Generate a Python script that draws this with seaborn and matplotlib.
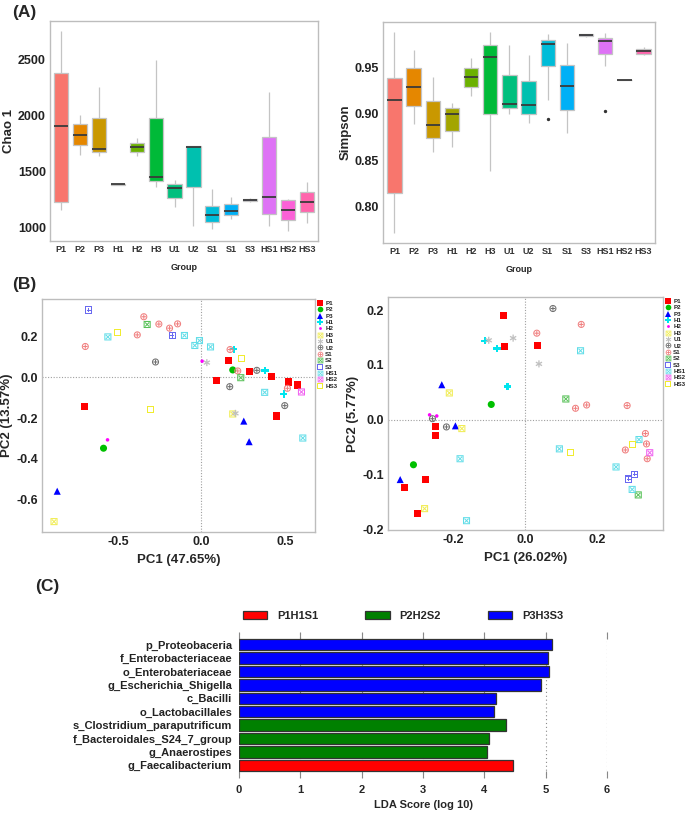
import numpy as np
import pandas as pd
import matplotlib
matplotlib.use("Agg")
import matplotlib.pyplot as plt
import seaborn as sns
from matplotlib.patches import Patch
from matplotlib.path import Path

box_ids = ["P1", "P2", "P3", "H1", "H2", "H3", "U1", "U2", "S1", "S1b", "S3", "HS1", "HS2", "HS3"]
box_labels = ["P1", "P2", "P3", "H1", "H2", "H3", "U1", "U2", "S1", "S1", "S3", "HS1", "HS2", "HS3"]
box_colors = ["#F8766D", "#E58700", "#C99800", "#A3A500", "#6BB100", "#00BA38", "#00BF7D",
              "#00C0AF", "#00BCD8", "#00B0F6", "#8D8FE8", "#DE72F5", "#FB61D7", "#FF65AC"]

chao_low = [1155, 1646, 1640, 1380, 1640, 1365, 1179, 1015, 982, 1074, 1226, 1012, 970, 1042]
chao_q1 = [1229, 1735, 1670, 1380, 1676, 1410, 1259, 1363, 1048, 1110, 1232, 1119, 1063, 1134]
chao_med = [1908, 1827, 1699, 1385, 1717, 1452, 1348, 1720, 1107, 1143, 1244, 1274, 1152, 1226]
chao_q3 = [2381, 1920, 1976, 1390, 1750, 1976, 1384, 1726, 1193, 1208, 1253, 1807, 1244, 1313]
chao_high = [2756, 2009, 2256, 1390, 1795, 2500, 1423, 1726, 1345, 1268, 1259, 2211, 1253, 1408]

simp_low = [0.772, 0.889, 0.859, 0.864, 0.919, 0.839, 0.900, 0.890, 0.915, 0.879, 0.983, 0.952, 0.937, 0.964]
simp_q1 = [0.815, 0.909, 0.874, 0.882, 0.929, 0.900, 0.906, 0.900, 0.952, 0.904, 0.984, 0.965, 0.937, 0.965]
simp_med = [0.915, 0.929, 0.888, 0.900, 0.940, 0.961, 0.911, 0.910, 0.975, 0.930, 0.985, 0.979, 0.937, 0.968]
simp_q3 = [0.939, 0.949, 0.914, 0.906, 0.949, 0.974, 0.942, 0.936, 0.980, 0.953, 0.986, 0.982, 0.937, 0.970]
simp_high = [0.988, 0.969, 0.940, 0.912, 0.960, 0.988, 0.974, 0.963, 0.986, 0.976, 0.986, 0.987, 0.937, 0.972]
simp_outlier_group = ["S1", "HS1"]
simp_outlier_value = [0.895, 0.903]

# ---- panel B: PCoA scores ----
pca_groups = ["P1", "P2", "P3", "H1", "H2", "H3", "U1", "U2", "S1", "S2", "S3", "HS1", "HS2", "HS3"]
pca_colors = ["#FF0000", "#00C000", "#0000FF", "#00E5EE", "#FF00FF", "#F0EC50", "#C0C0C0",
              "#707070", "#F08080", "#55C055", "#6A6AF0", "#60DDE8", "#F060F0", "#F0EC30"]

# hollow square (outer ring filled, inner hole) so it mixes with the other filled markers
_sq = [(-1, -1), (1, -1), (1, 1), (-1, 1), (-1, -1)]
_hole = [(-0.72, -0.72), (-0.72, 0.72), (0.72, 0.72), (0.72, -0.72), (-0.72, -0.72)]
_codes = [Path.MOVETO, Path.LINETO, Path.LINETO, Path.LINETO, Path.CLOSEPOLY]
open_square = Path(_sq + _hole, _codes * 2)

pca_markers = ["s", "o", "^", "P", ".", "$\\boxtimes$", "$\\ast$", "$\\oplus$", "$\\oplus$",
               "$\\boxtimes$", "$\\boxplus$", "$\\boxtimes$", "$\\boxtimes$", open_square]

pa_group = (["P1"] * 8 + ["P2"] * 2 + ["P3"] * 3 + ["H1"] * 3 + ["H2"] * 2 + ["H3"] * 2 + ["U1"] * 2
            + ["U2"] * 4 + ["S1"] * 9 + ["S2"] * 2 + ["S3"] * 2 + ["HS1"] * 7 + ["HS2"] + ["HS3"] * 3)
pa_x = [-0.701, 0.159, 0.088, 0.289, 0.420, 0.522, 0.572, 0.448,
        -0.586, 0.187,
        -0.863, 0.253, 0.285,
        0.193, 0.380, 0.492,
        -0.562, 0.004,
        -0.882, 0.187,
        0.032, 0.203,
        -0.275, 0.169, 0.498, 0.331,
        -0.695, -0.384, -0.345, -0.255, -0.191, -0.143, 0.171, 0.217, 0.514,
        -0.325, 0.235,
        -0.675, -0.175,
        -0.560, -0.102, -0.040, -0.012, 0.054, 0.378, 0.606,
        0.598,
        -0.502, -0.303, 0.239]
pa_y = [-0.143, 0.084, -0.018, 0.028, 0.002, -0.023, -0.038, -0.190,
        -0.348, 0.036,
        -0.559, -0.215, -0.316,
        0.138, 0.034, -0.082,
        -0.307, 0.079,
        -0.708, -0.180,
        0.072, -0.177,
        0.075, -0.046, -0.139, 0.034,
        0.151, 0.208, 0.297, 0.261, 0.241, 0.262, 0.136, 0.031, -0.054,
        0.259, -0.002,
        0.330, 0.205,
        0.198, 0.205, 0.156, 0.180, 0.149, -0.074, -0.298,
        -0.072,
        0.218, -0.157, 0.093]

pb_group = (["P1"] * 8 + ["P2"] * 2 + ["P3"] * 3 + ["H1"] * 3 + ["H2"] * 2 + ["H3"] * 3 + ["U1"] * 3
            + ["U2"] * 3 + ["S1"] * 9 + ["S2"] * 2 + ["S3"] * 2 + ["HS1"] * 7 + ["HS2"] + ["HS3"] * 2)
pb_x = [-0.062, -0.059, 0.033, -0.251, -0.250, -0.279, -0.336, -0.300,
        -0.095, -0.312,
        -0.233, -0.195, -0.349,
        -0.113, -0.079, -0.050,
        -0.267, -0.247,
        -0.212, -0.177, -0.281,
        -0.102, -0.034, 0.038,
        0.077, -0.259, -0.220,
        0.032, 0.156, 0.140, 0.171, 0.284, 0.335, 0.338, 0.279, 0.340,
        0.113, 0.315,
        0.305, 0.289,
        0.154, 0.095, 0.253, 0.317, 0.298, -0.182, -0.164,
        0.347,
        0.125, 0.299]
pb_y = [0.191, 0.134, 0.135, -0.012, -0.028, -0.109, -0.124, -0.171,
        0.028, -0.082,
        0.064, -0.011, -0.109,
        0.144, 0.130, 0.061,
        0.009, 0.007,
        0.049, -0.016, -0.162,
        0.145, 0.149, 0.102,
        0.203, 0.002, -0.013,
        0.158, 0.174, 0.021, 0.027, 0.026, -0.025, -0.044, -0.055, -0.071,
        0.038, -0.137,
        -0.099, -0.108,
        0.126, -0.053, -0.086, -0.036, -0.127, -0.071, -0.184,
        -0.060,
        -0.059, -0.045]

# ---- panel C: LEfSe ----
lda_features = ["p_Proteobaceria", "f_Enterobacteriaceae", "o_Enterobateriaceae", "g_Escherichia_Shigella",
                "c_Bacilli", "o_Lactobacillales", "s_Clostridium_paraputrificum",
                "f_Bacteroidales_S24_7_group", "g_Anaerostipes", "g_Faecalibacterium"]
lda_scores = [5.10, 5.04, 5.05, 4.92, 4.19, 4.15, 4.36, 4.08, 4.04, 4.47]
lda_class = ["P3H3S3"] * 6 + ["P2H2S2"] * 3 + ["P1H1S1"]
lda_class_order = ["P1H1S1", "P2H2S2", "P3H3S3"]
lda_class_colors = ["#FF0000", "#008000", "#0000FF"]

sns.set_style("white")
plt.rcParams["font.family"] = ["Liberation Sans", "DejaVu Sans"]
plt.rcParams["font.weight"] = "bold"
plt.rcParams["axes.unicode_minus"] = False

W, H = 685, 818
fig = plt.figure(figsize=(W / 100, H / 100), dpi=100)


def rect(x0, y0, x1, y1):
    return [x0 / W, 1 - y1 / H, (x1 - x0) / W, (y1 - y0) / H]


def frame(ax):
    for sp in ax.spines.values():
        sp.set_visible(True)
        sp.set_color("#BDBDBD")
        sp.set_linewidth(1.0)
    ax.tick_params(axis="both", direction="out", length=2, width=0.8, color="#333333", pad=1)


def alpha_box(ax, low, q1, med, q3, high, ylabel, ylim, yticks, fmt):
    rows = []
    for g, vals in zip(box_ids, zip(low, q1, med, q3, high)):
        rows += [(g, v) for v in vals]
    df = pd.DataFrame(rows, columns=["group", "value"])
    sns.boxplot(data=df, x="group", y="value", hue="group", order=box_ids, hue_order=box_ids,
                palette=dict(zip(box_ids, box_colors)), saturation=1, whis=(0, 100), width=0.75,
                linecolor="#C4C4C4", linewidth=0.9, showcaps=False, legend=False,
                medianprops={"color": "#3A3A3A", "linewidth": 1.3}, ax=ax)
    ax.set_xlim(-0.6, len(box_ids) - 0.4)
    ax.set_ylim(*ylim)
    ax.set_xticks(range(len(box_ids)))
    ax.set_xticklabels(box_labels, fontsize=6.5, fontweight="bold", color="#333333")
    ax.set_yticks(yticks)
    ax.set_yticklabels([fmt.format(t) for t in yticks], fontsize=9, fontweight="bold", color="#222222")
    ax.set_xlabel("Group", fontsize=6.5, fontweight="bold", labelpad=6)
    ax.set_ylabel(ylabel, fontsize=9.5, fontweight="bold", labelpad=2)
    frame(ax)


ax1 = fig.add_axes(rect(50, 21, 318, 241))
alpha_box(ax1, chao_low, chao_q1, chao_med, chao_q3, chao_high, "Chao 1", (878, 2845),
          [1000, 1500, 2000, 2500], "{:d}")

ax2 = fig.add_axes(rect(383, 22, 655, 243))
alpha_box(ax2, simp_low, simp_q1, simp_med, simp_q3, simp_high, "Simpson", (0.761, 0.999),
          [0.80, 0.85, 0.90, 0.95], "{:.2f}")
ax2.scatter([box_ids.index(g) for g in simp_outlier_group], simp_outlier_value, s=2, color="#333333", zorder=5)


def pca_panel(ax, group, xs, ys, xlabel, ylabel, xlim, ylim, xticks, yticks):
    df = pd.DataFrame({"group": group, "x": xs, "y": ys})
    ax.axhline(0, color="#A0A0A0", lw=0.8, ls=(0, (1, 1.5)), zorder=0)
    ax.axvline(0, color="#A0A0A0", lw=0.8, ls=(0, (1, 1.5)), zorder=0)
    sns.scatterplot(data=df, x="x", y="y", hue="group", style="group", hue_order=pca_groups,
                    style_order=pca_groups, palette=dict(zip(pca_groups, pca_colors)),
                    markers=dict(zip(pca_groups, pca_markers)), s=26, linewidth=0, ax=ax)
    ax.set_xlim(*xlim)
    ax.set_ylim(*ylim)
    ax.set_xticks(xticks)
    ax.set_xticklabels(["{:.1f}".format(t) for t in xticks], fontsize=9, fontweight="bold", color="#222222")
    ax.set_yticks(yticks)
    ax.set_yticklabels(["{:.1f}".format(t) for t in yticks], fontsize=9, fontweight="bold", color="#222222")
    ax.set_xlabel(xlabel, fontsize=9.5, fontweight="bold", labelpad=4)
    ax.set_ylabel(ylabel, fontsize=9.5, fontweight="bold", labelpad=2)
    frame(ax)
    handles, labels = ax.get_legend_handles_labels()
    ax.legend(handles, labels, loc="upper left", bbox_to_anchor=(1.0, 1.0), frameon=False,
              handletextpad=0.2, labelspacing=0.16, borderaxespad=0.15, borderpad=0.1,
              handlelength=1.2, markerscale=0.8, prop={"size": 4.5, "weight": "bold"})


ax3 = fig.add_axes(rect(42, 299, 315, 532))
pca_panel(ax3, pa_group, pa_x, pa_y, "PC1 (47.65%)", "PC2 (13.57%)", (-0.954, 0.679), (-0.759, 0.384),
          [-0.5, 0.0, 0.5], [-0.6, -0.4, -0.2, 0.0, 0.2])

ax4 = fig.add_axes(rect(388, 297, 663, 530))
pca_panel(ax4, pb_group, pb_x, pb_y, "PC1 (26.02%)", "PC2 (5.77%)", (-0.383, 0.384), (-0.201, 0.224),
          [-0.2, 0.0, 0.2], [-0.2, -0.1, 0.0, 0.1, 0.2])

# ---- panel C ----
ax5 = fig.add_axes(rect(239, 632, 607, 778))
lda_df = pd.DataFrame({"feature": lda_features, "score": lda_scores, "cls": lda_class})
sns.barplot(data=lda_df, x="score", y="feature", hue="cls", hue_order=lda_class_order,
            palette=dict(zip(lda_class_order, lda_class_colors)), dodge=False, saturation=1,
            width=0.86, edgecolor="#333333", linewidth=0.9, legend=False, ax=ax5)
ax5.set_xlim(0, 6)
ax5.set_ylim(len(lda_features) - 0.5 + 0.45, -0.5 - 0.45)
ax5.set_xticks(range(7))
ax5.set_xticklabels([str(t) for t in range(7)], fontsize=8, fontweight="bold")
ax5.tick_params(axis="x", top=True, bottom=True, direction="in", length=5, width=0.8, color="#888888", pad=5)
ax5.tick_params(axis="y", length=0, pad=5)
ax5.set_yticks(range(len(lda_features)))
ax5.set_yticklabels(lda_features, fontsize=8, fontweight="bold", color="#222222")
ax5.grid(axis="x", color="#8A8A8A", lw=0.8, ls=(0, (1, 2.5)))
ax5.grid(axis="y", visible=False)
ax5.set_axisbelow(True)
for sp in ax5.spines.values():
    sp.set_visible(False)
ax5.set_xlabel("LDA Score (log 10)", fontsize=8, fontweight="bold", labelpad=4)
ax5.set_ylabel("")

lda_handles = [Patch(facecolor=c, edgecolor="#333333", linewidth=0.9) for c in lda_class_colors]
fig.legend(lda_handles, lda_class_order, loc="center left", bbox_to_anchor=(243 / W, 1 - 616 / H),
           ncol=3, frameon=False, handlelength=2.2, handleheight=0.75,
           columnspacing=4.2, handletextpad=0.9, borderaxespad=0, borderpad=0,
           prop={"size": 8, "weight": "bold"})

# ---- panel letters ----
fig.text(12 / W, 1 - 13 / H, "(A)", fontsize=12.5, fontweight="bold", va="center")
fig.text(12 / W, 1 - 284 / H, "(B)", fontsize=12.5, fontweight="bold", va="center")
fig.text(35 / W, 1 - 587 / H, "(C)", fontsize=12.5, fontweight="bold", va="center")

fig.savefig("out.png", dpi=100)
